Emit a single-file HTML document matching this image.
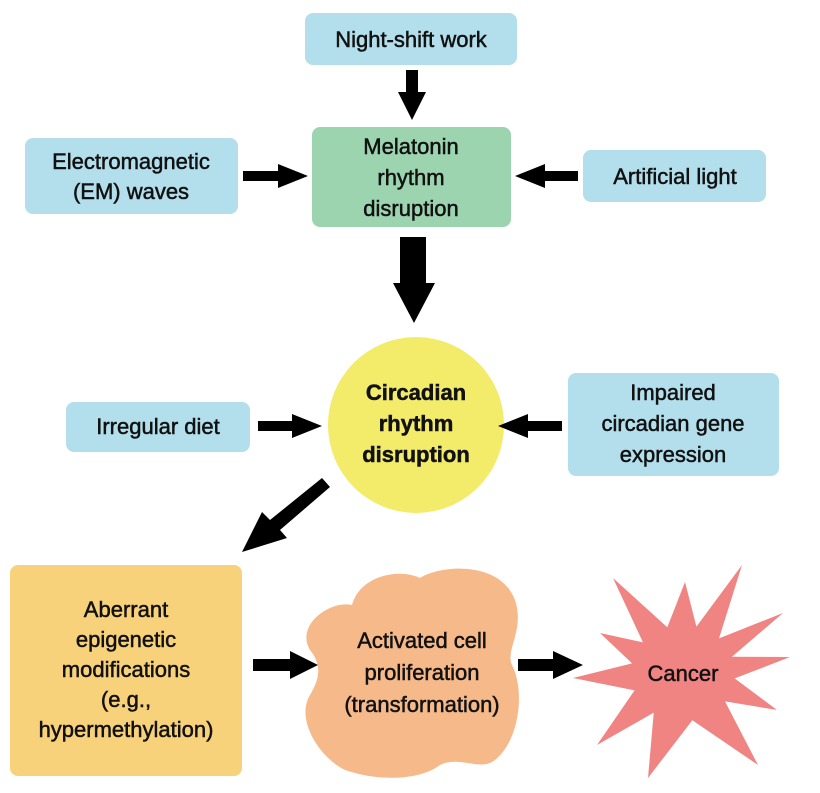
<!DOCTYPE html>
<html><head><meta charset="utf-8"><style>
html,body{margin:0;padding:0;background:#fff;}
svg text{font-family:"Liberation Sans",sans-serif;font-size:22px;fill:#111;text-anchor:middle;stroke:#111;stroke-width:0.5px;}
</style></head><body>
<svg width="820" height="788" viewBox="0 0 820 788">
<g>
<rect x="305" y="13" width="212" height="52" rx="8" fill="#b3dfec"/>
<text x="411" y="47">Night-shift work</text></g>
<g>
<rect x="25" y="138" width="213" height="76" rx="8" fill="#b3dfec"/>
<text x="131" y="169">Electromagnetic</text><text x="131" y="199">(EM) waves</text></g>
<g>
<rect x="312" y="127" width="199" height="100" rx="8" fill="#9dd4b0"/>
<text x="411" y="154">Melatonin</text><text x="411" y="185">rhythm</text><text x="411" y="216">disruption</text></g>
<g>
<rect x="583" y="150" width="183" height="52" rx="8" fill="#b3dfec"/>
<text x="675" y="184">Artificial light</text></g>
<g>
<circle cx="416" cy="425" r="88" fill="#f3ec6a"/>
<text x="416" y="400" font-weight="bold">Circadian</text><text x="416" y="431" font-weight="bold">rhythm</text><text x="416" y="462" font-weight="bold">disruption</text></g>
<g>
<rect x="66" y="402" width="184" height="50" rx="8" fill="#b3dfec"/>
<text x="158" y="434">Irregular diet</text></g>
<g>
<rect x="568" y="373" width="211" height="103" rx="8" fill="#b3dfec"/>
<text x="673" y="400">Impaired</text><text x="673" y="431">circadian gene</text><text x="673" y="462">expression</text></g>
<g>
<rect x="10" y="565" width="232" height="211" rx="8" fill="#f8d27a"/>
<text x="126" y="617">Aberrant</text><text x="126" y="647">epigenetic</text><text x="126" y="677">modifications</text><text x="126" y="707">(e.g.,</text><text x="126" y="737">hypermethylation)</text></g>
<g>
<path d="M352,605 C360,575 400,568 420,578 C440,565 500,560 515,600 C525,630 505,650 512,665 C525,690 520,740 495,760 C480,772 460,755 440,765 C420,780 380,782 345,770 C320,758 295,720 310,695 C320,678 322,665 310,650 C295,625 330,600 352,605 Z" fill="#f6b98a"/>
<text x="422" y="648">Activated cell</text><text x="422" y="680">proliferation</text><text x="422" y="712">(transformation)</text></g>
<g>
<polygon id="star" fill="#ef8482"/>
<text x="683" y="681">Cancer</text></g>
<g fill="#000">
<polygon points="406,70 418,70 418,92 426,92 412,120 398,92 406,92"/>
<polygon points="243,171 278,171 278,164 308,176 278,188 278,181 243,181"/>
<polygon points="578,171 545,171 545,164 515,176 545,188 545,181 578,181"/>
<polygon points="400,237 426,237 426,283 435,283 414,323 393,283 400,283"/>
<polygon points="258,421 292,421 292,414 322,426 292,438 292,431 258,431"/>
<polygon points="562,421 528,421 528,414 498,426 528,438 528,431 562,431"/>
<polygon points="322,478 330,487 280,530 287,538 242,552 262,512 270,520"/>
<polygon points="253,659 290,659 290,651 318,665 290,679 290,671 253,671"/>
<polygon points="518,659 553,659 553,651 583,665 553,679 553,671 518,671"/>
</g>
</svg>
<script>
const outer=[[685,582],[742,565],[783,613],[790,657],[777,710],[758,765],[648,778],[597,745],[573,678],[600,633],[613,578]];
const cx=683,cy=673;
let pts=[];
for(let i=0;i<outer.length;i++){
 const a=outer[i],b=outer[(i+1)%outer.length];
 pts.push(a);
 let ang1=Math.atan2(a[1]-cy,a[0]-cx),ang2=Math.atan2(b[1]-cy,b[0]-cx);
 if(ang2<ang1)ang2+=2*Math.PI;
 const m=(ang1+ang2)/2;
 pts.push([cx+52*Math.cos(m),cy+48*Math.sin(m)]);
}
document.getElementById('star').setAttribute('points',pts.map(p=>p.join(',')).join(' '));
</script>
</body></html>
